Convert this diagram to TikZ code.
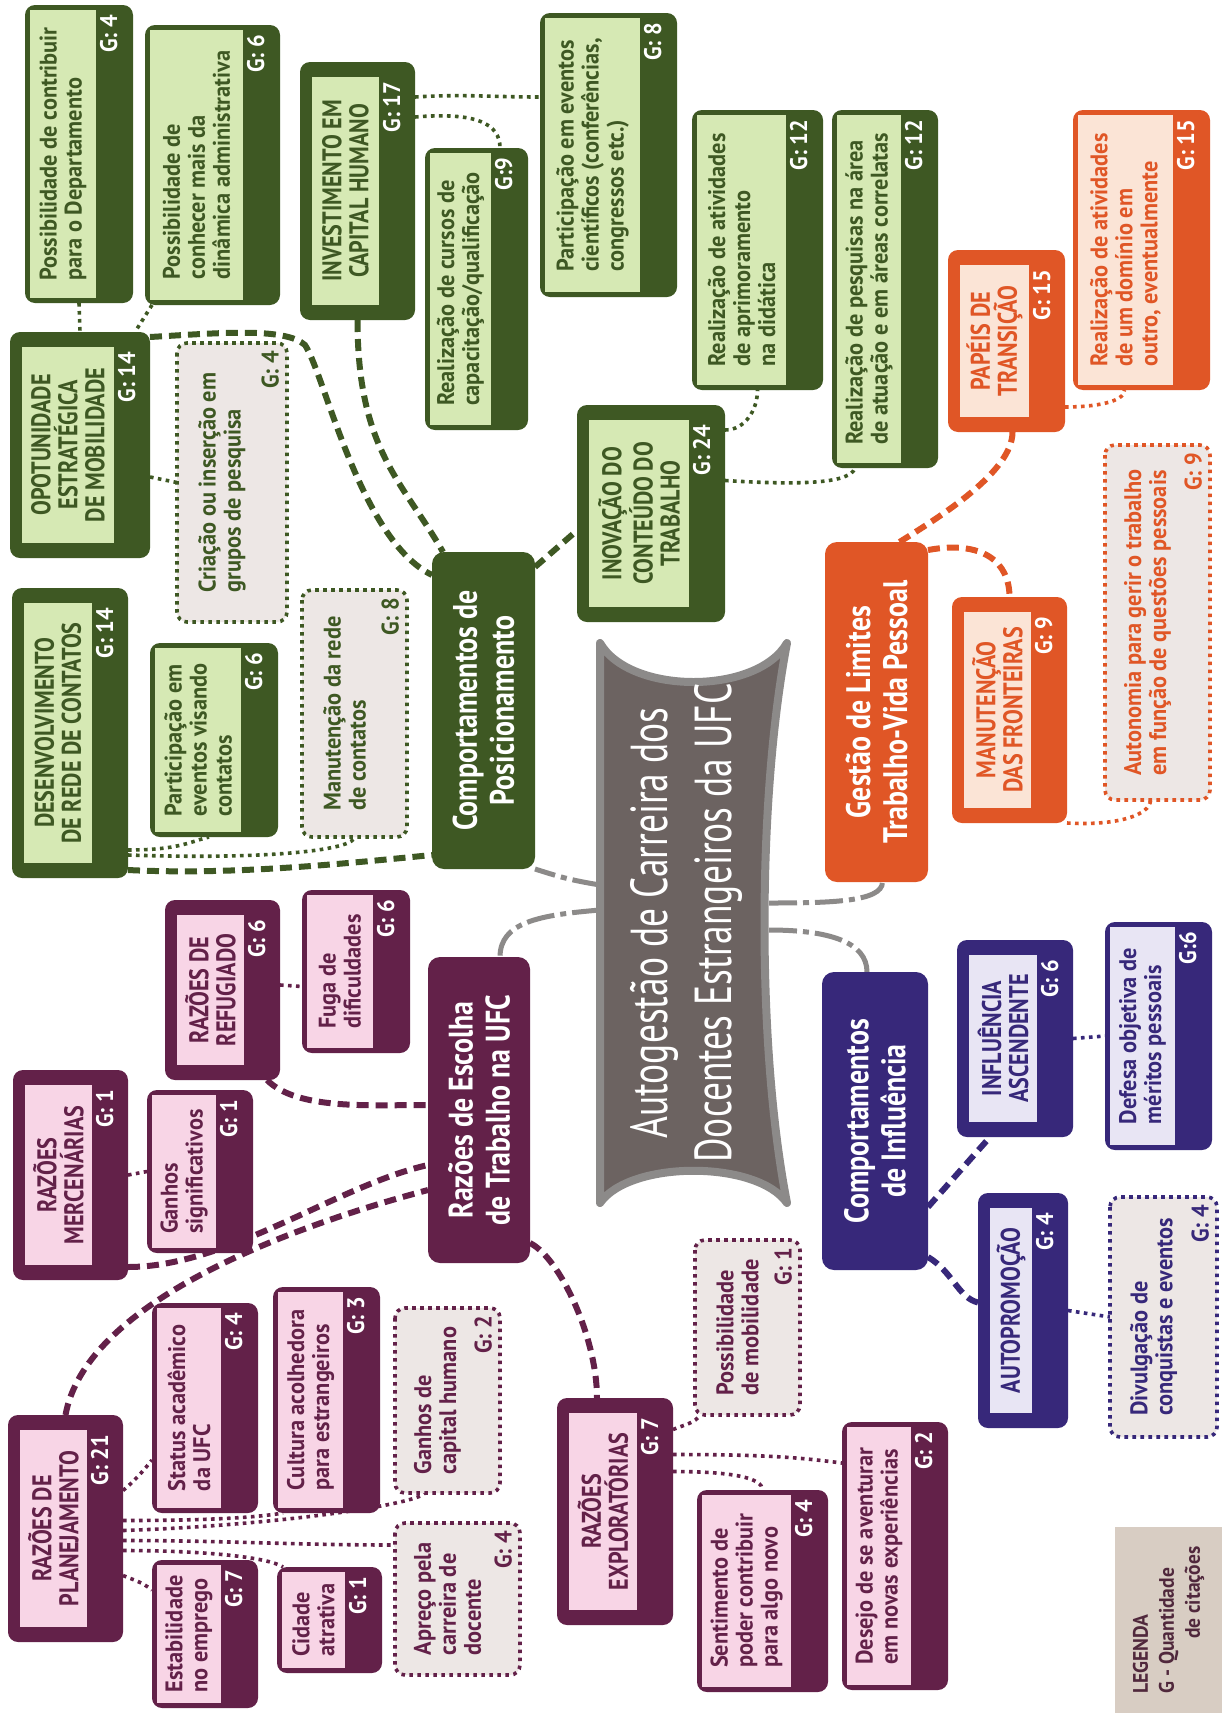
\documentclass[tikz,border=0pt]{standalone}
\usepackage{fontspec}
\setmainfont{PT Sans}[FakeStretch=0.93]
\newfontfamily\condfont{PT Sans}[FakeStretch=0.82]
\newfontfamily\titlefont{PT Sans}[FakeStretch=0.72]
\usepackage{tikz}
\usepackage{xcolor}
\usetikzlibrary{shapes,positioning,calc,backgrounds}
\definecolor{posgreen}{RGB}{62,88,35}
\definecolor{poslight}{RGB}{214,233,180}
\definecolor{razwine}{RGB}{99,33,73}
\definecolor{razlight}{RGB}{248,213,230}
\definecolor{gestorange}{RGB}{224,86,38}
\definecolor{gestlight}{RGB}{251,228,214}
\definecolor{inflblue}{RGB}{55,40,122}
\definecolor{infllight}{RGB}{232,229,244}
\definecolor{dotfill}{RGB}{237,231,229}
\definecolor{titlegrey}{RGB}{108,99,97}
\definecolor{titleedge}{RGB}{140,138,137}
\definecolor{legendbg}{RGB}{216,205,195}
\definecolor{legendtext}{RGB}{80,40,60}

\begin{document}
\begin{tikzpicture}[x=0.5pt, y=-0.5pt,
    box/.style={rectangle, rotate=90, inner sep=0pt, outer sep=0pt},
    bb/.style args={#1,#2,#3,#4}{at={(#1,#4)}, anchor=north west,
        minimum width={(#4-#2)*0.5pt}, minimum height={(#3-#1)*0.5pt}},
    darkbox/.style={box, fill=#1, rounded corners=5pt},
    mainbox/.style={box, fill=#1, rounded corners=6pt, text=white, align=center,
        font=\condfont\fontsize{17}{18.5}\selectfont\bfseries},
    lighttext/.style 2 args={box, fill=#1, text=#2, anchor=north west, align=left,
        font=\fontsize{12}{12.5}\selectfont\bfseries},
    capstext/.style 2 args={box, fill=#1, text=#2, anchor=north west, align=center,
        font=\condfont\fontsize{13.5}{13.5}\selectfont\bfseries},
    glabel/.style={box, anchor=north east, text=white, inner sep=1pt,
        font=\fontsize{12}{12}\selectfont\bfseries},
    dotbox/.style={box, fill=dotfill, draw=#1, rounded corners=5pt,
        line width=1.8pt, dash pattern=on 1.8pt off 2.2pt},
    dottext/.style={box, text=#1, align=left, font=\fontsize{12}{12.5}\selectfont\bfseries},
    dotg/.style={box, anchor=south east, text=#1, inner sep=1pt,
        font=\fontsize{12}{12}\selectfont\bfseries},
    titleshape/.style={fill=titlegrey, draw=titleedge, line width=4pt, line join=round},
    titletext/.style={box, text=white, align=center, minimum width=280pt, minimum height=86pt,
        font=\titlefont\fontsize{26}{32}\selectfont},
    trunk/.style={draw=titleedge, line width=2.5pt, dash pattern=on 14pt off 3pt on 3pt off 3pt},
    branch/.style={draw=#1, line width=3pt, dash pattern=on 6pt off 3.5pt},
    twig/.style={draw=#1, line width=1.8pt, dash pattern=on 1.8pt off 2.2pt}
]
\useasboundingbox (0,0) rectangle (1223,1713);

% Title banner
\draw[titleshape] (600,643) .. controls (630,695) and (757,695) .. (787,643)
    .. controls (757,800) and (757,1050) .. (787,1203)
    .. controls (757,1160) and (630,1160) .. (600,1203) -- cycle;
\node[titletext] (title) at (686,923) {Autogestão de Carreira dos\\Docentes Estrangeiros da UFC};

% Main themes
\node[mainbox=posgreen, bb={432,552,535,869}] (pos) {Comportamentos de\\Posicionamento};
\node[mainbox=razwine, bb={428,957,530,1263}] (raz) {Razões de Escolha\\de Trabalho na UFC};
\node[mainbox=gestorange, bb={825,542,928,882}] (gest) {Gestão de Limites\\Trabalho-Vida Pessoal};
\node[mainbox=inflblue, bb={822,972,928,1270}] (infl) {Comportamentos\\de Influência};

% Categories
\foreach \dk/\lt/\nm/\xa/\ya/\xb/\yb/\g/\txt in {
    posgreen/poslight/desen/12/588/128/878/{G: 14}/{DESENVOLVIMENTO\\DE REDE DE CONTATOS},
    posgreen/poslight/oport/10/332/150/558/{G: 14}/{OPOTUNIDADE\\ESTRATÉGICA\\DE MOBILIDADE},
    posgreen/poslight/invest/300/62/415/320/{G: 17}/{INVESTIMENTO EM\\CAPITAL HUMANO},
    posgreen/poslight/inova/577/405/725/622/{G: 24}/{INOVAÇÃO DO\\CONTEÚDO DO\\TRABALHO},
    razwine/razlight/refug/165/900/280/1080/{G: 6}/{RAZÕES DE\\REFUGIADO},
    razwine/razlight/merc/13/1070/128/1280/{G: 1}/{RAZÕES\\MERCENÁRIAS},
    razwine/razlight/plan/8/1415/123/1642/{G: 21}/{RAZÕES DE\\PLANEJAMENTO},
    razwine/razlight/explo/557/1398/673/1625/{G: 7}/{RAZÕES\\EXPLORATÓRIAS},
    gestorange/gestlight/papeis/948/250/1065/432/{G: 15}/{PAPÉIS DE\\TRANSIÇÃO},
    gestorange/gestlight/fronte/952/597/1067/823/{G: 9}/{MANUTENÇÃO\\DAS FRONTEIRAS},
    inflblue/infllight/ascend/957/940/1073/1137/{G: 6}/{INFLUÊNCIA\\ASCENDENTE},
    inflblue/infllight/autoprom/978/1193/1068/1428/{G: 4}/{AUTOPROMOÇÃO}} {
    \node[darkbox=\dk, bb={\xa,\ya,\xb,\yb}] (\nm) {};
    \node[capstext={\lt}{\dk}, minimum width={(\yb-\ya-30)*0.5pt},
        minimum height={(\xb-\xa-48)*0.5pt}] (\nm-t) at ([shift={(12,-15)}]\nm.north west) {\txt};
    \node[glabel] (\nm-g) at ([shift={(2,3)}]\nm-t.south east) {\g};
}

% Items
\foreach \dk/\lt/\nm/\xa/\ya/\xb/\yb/\g/\txt in {
    posgreen/poslight/contrib/25/5/133/303/{G: 4}/{Possibilidade de contribuir\\para o Departamento},
    posgreen/poslight/dinam/145/25/280/305/{G: 6}/{Possibilidade de\\conhecer mais da\\dinâmica administrativa},
    posgreen/poslight/cursos/425/148/528/430/{G:9}/{Realização de cursos de\\capacitação/qualificação},
    posgreen/poslight/cient/540/13/677/297/{G: 8}/{Participação em eventos\\científicos (conferências,\\congressos etc.)},
    posgreen/poslight/didat/692/110/823/390/{G: 12}/{Realização de atividades\\de aprimoramento\\na didática},
    posgreen/poslight/pesq/832/110/938/468/{G: 12}/{Realização de pesquisas na área\\de atuação e em áreas correlatas},
    posgreen/poslight/evcont/150/643/278/837/{G: 6}/{Participação em\\eventos visando\\contatos},
    razwine/razlight/fuga/302/890/410/1053/{G: 6}/{Fuga de\\dificuldades},
    razwine/razlight/ganhos/147/1090/253/1253/{G: 1}/{Ganhos\\significativos},
    razwine/razlight/status/152/1303/258/1513/{G: 4}/{Status acadêmico\\da UFC},
    razwine/razlight/cultura/273/1287/380/1513/{G: 3}/{Cultura acolhedora\\para estrangeiros},
    razwine/razlight/estab/152/1560/258/1708/{G: 7}/{Estabilidade\\no emprego},
    razwine/razlight/cidade/277/1567/382/1673/{G: 1}/{Cidade\\atrativa},
    razwine/razlight/sentim/697/1490/828/1692/{G: 4}/{Sentimento de\\poder contribuir\\para algo novo},
    razwine/razlight/desejo/842/1422/948/1690/{G: 2}/{Desejo de se aventurar\\em novas experiências},
    gestorange/gestlight/dominio/1073/110/1210/390/{G: 15}/{Realização de atividades\\de um domínio em\\outro, eventualmente},
    inflblue/infllight/defesa/1105/922/1212/1150/{G:6}/{Defesa objetiva de\\méritos pessoais}} {
    \node[darkbox=\dk, bb={\xa,\ya,\xb,\yb}] (\nm) {};
    \node[lighttext={\lt}{\dk}, minimum width={(\yb-\ya-10)*0.5pt},
        minimum height={(\xb-\xa-42)*0.5pt}] (\nm-t) at ([shift={(5,-5)}]\nm.north west) {\txt};
    \node[glabel] (\nm-g) at ([shift={(2,3)}]\nm-t.south east) {\g};
}

% Dotted items
\foreach \dk/\nm/\xa/\ya/\xb/\yb/\g/\txt in {
    posgreen/grupos/177/343/287/622/{G: 4}/{Criação ou inserção em\\grupos de pesquisa},
    posgreen/manrede/302/590/407/837/{G: 8}/{Manutenção da rede\\de contatos},
    razwine/capital/395/1308/500/1493/{G: 2}/{Ganhos de\\capital humano},
    razwine/apreco/395/1523/520/1675/{G: 4}/{Apreço pela\\carreira de\\docente},
    razwine/mobil/695/1240/800/1415/{G: 1}/{Possibilidade\\de mobilidade},
    gestorange/autonom/1105/445/1210/800/{G: 9}/{Autonomia para gerir o trabalho\\em função de questões pessoais},
    inflblue/divulg/1110/1197/1217/1437/{G: 4}/{Divulgação de\\conquistas e eventos}} {
    \node[dotbox=\dk, bb={\xa,\ya,\xb,\yb}] (\nm) {};
    \node[dottext=\dk] (\nm-t) at ([shift={(-10,0)}]\nm.center) {\txt};
    \node[dotg=\dk] (\nm-g) at ([shift={(-6,6)}]\nm.south east) {\g};
}

% Legend
\node[box, bb={1115,1527,1222,1713}, fill=legendbg, text=legendtext, align=left,
    font=\fontsize{10.5}{13}\selectfont\bfseries] (legend) {LEGENDA\\G - Quantidade\\\hspace*{2.6em}de citações};

\begin{scope}[on background layer]
\fill[white] (0,0) rectangle (1223,1713);
\coordinate (obend) at (305,345);

% Title to themes
\draw[trunk] ([shift={(0,-38)}]title.north) .. controls +(-30,-5) and +(25,8) .. (pos.south west);
\draw[trunk] ([shift={(0,-13)}]title.north) .. controls +(-60,5) and +(0,-35) .. ([shift={(21,0)}]raz.east);
\draw[trunk] ([shift={(-3,-20)}]title.south) .. controls +(60,0) and +(0,20) .. ([shift={(6,0)}]gest.west);
\draw[trunk] ([shift={(-3,7)}]title.south) .. controls +(60,0) and +(0,-30) .. ([shift={(-8,0)}]infl.east);

% Themes to categories
\draw[branch=posgreen] ([shift={(0,5)}]oport.south east) .. controls +(70,-4) and +(-20,-18) .. (obend)
    .. controls +(20,30) and +(-72,-35) .. ([shift={(0,23)}]pos.north east);
\draw[branch=posgreen] (invest.west) .. controls +(0,130) and +(-40,-70) .. ([shift={(11,0)}]pos.north east);
\draw[branch=posgreen] ([shift={(0,-8)}]desen.south west) .. controls +(100,5) and +(-100,10) .. ([shift={(0,-14)}]pos.north west);
\draw[branch=posgreen] ([shift={(0,15)}]pos.south east) -- ([shift={(0,17)}]inova.north);
\draw[branch=razwine] ([shift={(-13,0)}]refug.south west) .. controls +(30,30) and +(-60,0) .. ([shift={(0,-5)}]raz.north);
\draw[branch=razwine] ([shift={(0,-13)}]merc.south west) .. controls +(100,0) and +(-90,20) .. ([shift={(0,55)}]raz.north);
\draw[branch=razwine] (plan.east) .. controls +(20,-110) and +(-150,40) .. ([shift={(0,80)}]raz.north);
\draw[branch=razwine] ([shift={(0,-20)}]raz.south west) .. controls +(30,15) and +(0,-60) .. ([shift={(-18,0)}]explo.east);
\draw[branch=gestorange] ([shift={(23,0)}]gest.east) .. controls +(40,-25) and +(0,40) .. ([shift={(6,0)}]papeis.west);
\draw[branch=gestorange] ([shift={(0,8)}]gest.south east) .. controls +(55,-10) and +(0,-35) .. (fronte.east);
\draw[branch=inflblue] ([shift={(0,86)}]infl.south) -- ([shift={(-25,0)}]ascend.west);
\draw[branch=inflblue] ([shift={(0,-13)}]infl.south west) .. controls +(25,15) and +(-20,-5) .. ([shift={(0,-8)}]autoprom.north);

% Categories to items
\draw[twig=posgreen] (contrib.west) -- (oport.east);
\draw[twig=posgreen] ([shift={(7,0)}]dinam.north west) -- ([shift={(-15,0)}]oport.south east);
\draw[twig=posgreen] ([shift={(0,32)}]oport.south) -- (grupos.north);
\draw[twig=posgreen] ([shift={(0,-94)}]invest.south) .. controls +(50,-3) and +(-50,0) .. ([shift={(0,-58)}]cient.north);
\draw[twig=posgreen] ([shift={(0,-74)}]invest.south) .. controls +(60,-5) and +(0,-25) .. ([shift={(23.5,0)}]cursos.east);
\draw[twig=posgreen] ([shift={(0,25)}]inova.south east) .. controls +(20,0) and +(0,20) .. (didat.west);
\draw[twig=posgreen] ([shift={(0,-33)}]inova.south) .. controls +(80,5) and +(-5,15) .. ([shift={(-30,0)}]pesq.west);
\draw[twig=posgreen] ([shift={(0,-28)}]desen.south west) .. controls +(50,0) and +(-20,5) .. ([shift={(-5,0)}]evcont.west);
\draw[twig=posgreen] ([shift={(0,-23)}]desen.south west) .. controls +(150,5) and +(0,12) .. (manrede.west);
\draw[twig=razwine] ([shift={(0,-5)}]refug.south) -- ([shift={(0,15)}]fuga.north);
\draw[twig=razwine] (merc.south) -- (ganhos.north);
\draw[twig=razwine] ([shift={(0,-38)}]plan.south) .. controls +(12,-10) and +(-8,10) .. ([shift={(0,52)}]status.north);
\draw[twig=razwine] ([shift={(0,-8)}]plan.south) .. controls +(80,0) and +(-30,5) .. ([shift={(10,0)}]cultura.north west);
\draw[twig=razwine] ([shift={(0,2)}]plan.south) .. controls +(150,-5) and +(-10,12) .. ([shift={(30,0)}]capital.north west);
\draw[twig=razwine] ([shift={(0,12)}]plan.south) .. controls +(100,0) and +(-100,0) .. ([shift={(0,-54)}]apreco.north);
\draw[twig=razwine] ([shift={(0,22)}]plan.south) .. controls +(80,0) and +(-15,-10) .. ([shift={(6,0)}]cidade.north east);
\draw[twig=razwine] ([shift={(0,47)}]plan.south) .. controls +(12,5) and +(-10,-8) .. ([shift={(0,-44)}]estab.north);
\draw[twig=razwine] ([shift={(0,-82)}]explo.south) .. controls +(12,-5) and +(-5,8) .. ([shift={(5,0)}]mobil.north west);
\draw[twig=razwine] ([shift={(0,-57)}]explo.south) .. controls +(100,0) and +(-40,-5) .. ([shift={(0,-93)}]desejo.north);
\draw[twig=razwine] ([shift={(0,-40)}]explo.south) .. controls +(60,0) and +(0,-12) .. (sentim.east);
\draw[twig=gestorange] ([shift={(0,-25)}]papeis.south west) .. controls +(30,0) and +(0,12) .. ([shift={(-17,0)}]dominio.west);
\draw[twig=gestorange] (fronte.south west) .. controls +(50,3) and +(0,15) .. ([shift={(-7,0)}]autonom.west);
\draw[twig=inflblue] (ascend.south) -- (defesa.north);
\draw[twig=inflblue] (autoprom.south) -- (divulg.north);
\end{scope}

\end{tikzpicture}
\end{document}
